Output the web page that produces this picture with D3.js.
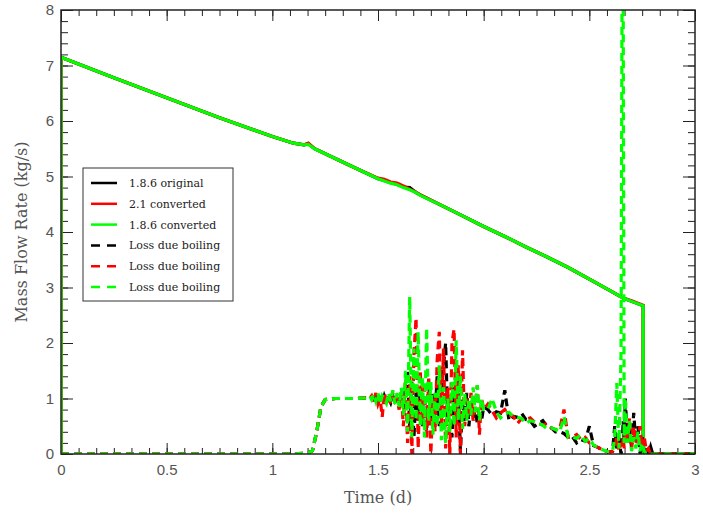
<!DOCTYPE html>
<html>
<head>
<meta charset="utf-8">
<script src="https://cdn.jsdelivr.net/npm/d3@7"></script>
<style>
  body { margin: 0; background: #fff; }
</style>
</head>
<body>
<div id="graphContainer"></div>
<script>
// main mass flow line (time in days, kg/s)
const mainTime = [0, 0, 0.25, 0.5, 0.75, 1.0, 1.1, 1.15, 1.17, 1.2, 1.3, 1.4, 1.5, 1.53, 1.56, 1.59, 1.62, 1.65, 1.68, 1.7, 1.8, 1.9, 2.0, 2.1, 2.2, 2.3, 2.4, 2.5, 2.6, 2.66, 2.7, 2.755, 2.755, 3.0]
const mainOriginal = [0, 7.15, 6.78, 6.42, 6.06, 5.72, 5.6, 5.57, 5.59, 5.5, 5.32, 5.14, 4.96, 4.93, 4.89, 4.86, 4.81, 4.8, 4.71, 4.67, 4.48, 4.29, 4.1, 3.92, 3.73, 3.55, 3.36, 3.15, 2.94, 2.81, 2.75, 2.67, 0, 0]
const main21 = [0, 7.15, 6.78, 6.42, 6.06, 5.72, 5.6, 5.57, 5.6, 5.5, 5.32, 5.14, 4.97, 4.95, 4.9, 4.88, 4.83, 4.77, 4.72, 4.67, 4.48, 4.29, 4.1, 3.92, 3.73, 3.55, 3.36, 3.15, 2.94, 2.81, 2.76, 2.68, 0, 0]
const main186 = [0, 7.15, 6.78, 6.42, 6.06, 5.72, 5.6, 5.57, 5.58, 5.5, 5.32, 5.14, 4.96, 4.92, 4.88, 4.85, 4.8, 4.76, 4.71, 4.66, 4.48, 4.29, 4.1, 3.92, 3.73, 3.55, 3.36, 3.15, 2.94, 2.81, 2.75, 2.67, 0, 0]

// loss due boiling (dashed)
const boilTime = [0, 1.1, 1.17, 1.19, 1.21, 1.23, 1.25, 1.3, 1.35, 1.4, 1.44,
  1.46, 1.47, 1.48, 1.49, 1.5, 1.51, 1.52, 1.53, 1.54, 1.55, 1.56, 1.57, 1.58, 1.59, 1.6,
  1.61, 1.62, 1.63, 1.64, 1.65, 1.66, 1.67, 1.68, 1.69, 1.7, 1.71, 1.72, 1.73, 1.74, 1.75,
  1.76, 1.77, 1.78, 1.79, 1.8, 1.81, 1.82, 1.83, 1.84, 1.85, 1.86, 1.87, 1.88, 1.89, 1.9,
  1.91, 1.92, 1.93, 1.94, 1.95, 1.96, 1.97, 1.98, 1.99, 2.0,
  2.02, 2.04, 2.06, 2.08, 2.1, 2.12, 2.14, 2.16, 2.18, 2.2, 2.22, 2.24, 2.26, 2.28, 2.3,
  2.32, 2.34, 2.36, 2.38, 2.4, 2.42, 2.44, 2.46, 2.48, 2.5, 2.52, 2.54, 2.56, 2.58, 2.6,
  2.61, 2.62, 2.63, 2.64, 2.65, 2.655, 2.66, 2.665, 2.67, 2.68, 2.69, 2.7, 2.71, 2.72, 2.73,
  2.74, 2.75, 2.76, 2.77, 2.78, 2.79, 2.8, 2.85, 3.0]
const boilOriginal = [0, 0, 0.02, 0.06, 0.4, 0.85, 0.98, 1.0, 1.0, 1.0, 1.01,
  1.0, 1.02, 0.98, 1.05, 0.95, 1.0, 0.9, 1.05, 0.95, 1.0, 0.92, 1.05, 0.9, 1.0, 0.9,
  1.1, 0.8, 1.2, 1.5, 0.5, 1.3, 0.3, 1.1, 0.6, 1.2, 0.5, 1.0, 0.4, 1.3, 0.6,
  1.1, 0.7, 1.4, 0.5, 1.2, 1.6, 2.0, 0.6, 1.0, 0.3, 1.2, 0.7, 1.1, 0.05, 0.9,
  0.6, 1.1, 0.5, 0.9, 0.65, 0.8, 0.55, 0.7, 0.6, 0.85,
  0.8, 0.7, 0.76, 0.74, 1.15, 0.6, 0.68, 0.66, 0.73, 0.62, 0.6, 0.5, 0.55, 0.6, 0.5,
  0.47, 0.4, 0.4, 0.37, 0.3, 0.31, 0.2, 0.26, 0.23, 0.5, 0.15, 0.12, 0.08, 0.05, 0.04,
  0.05, 0.5, 0.1, 0.3, 0.0, 0.1, 0.6, 0.2, 1.0, 0.3, 0.5, 0.1, 0.74, 0.2, 0.5,
  0.0, 0.3, 0.05, 0.13, 0.0, 0.13, 0, 0, 0]
const boil21 = [0, 0, 0.02, 0.06, 0.4, 0.85, 0.98, 1.0, 1.0, 1.0, 1.01,
  1.0, 1.05, 0.95, 1.1, 0.9, 1.0, 0.67, 1.1, 0.95, 1.05, 0.9, 1.1, 0.95, 1.0, 0.8,
  1.1, 0.5, 1.3, 0.2, 1.4, 0.0, 1.8, 2.45, 0.1, 1.5, 0.6, 1.2, 0.3, 1.4, 0.0,
  1.0, 0.4, 1.7, 2.2, 0.5, 1.9, 0.1, 1.2, 0.0, 2.0, 2.25, 0.3, 1.6, 0.0, 1.87,
  0.5, 1.0, 0.7, 1.1, 0.6, 0.9, 1.24, 0.35, 1.0, 0.8,
  0.9, 0.78, 0.65, 0.74, 0.8, 0.7, 0.68, 0.55, 0.64, 0.62, 0.65, 0.58, 0.55, 0.52, 0.55,
  0.47, 0.44, 0.45, 0.8, 0.3, 0.31, 0.35, 0.26, 0.3, 0.2, 0.16, 0.12, 0.08, 0.05, 0.04,
  0.05, 0.1, 0.3, 0.05, 0.2, 0.1, 0.3, 0.1, 0.4, 0.2, 0.65, 0.1, 0.5, 0.2, 0.3,
  0.5, 0.1, 0.3, 0.05, 0.1, 0.0, 0, 0, 0]
const boil186 = [0, 0, 0.02, 0.06, 0.4, 0.85, 0.98, 1.0, 1.0, 1.0, 1.01,
  1.05, 0.98, 1.08, 0.95, 1.1, 0.9, 1.05, 1.0, 0.92, 1.1, 0.95, 1.15, 0.9, 1.1, 0.85,
  1.2, 0.7, 1.5, 0.4, 2.83, 0.3, 1.9, 0.6, 2.2, 0.5, 1.4, 0.3, 2.27, 0.6, 1.3,
  0.35, 1.1, 0.5, 1.6, 0.25, 1.2, 0.2, 1.0, 0.4, 1.3, 0.5, 2.05, 0.6, 1.4, 0.45,
  1.1, 0.6, 1.0, 0.7, 1.2, 0.75, 1.24, 0.6, 1.0, 0.8,
  0.8, 1.0, 0.76, 0.65, 0.72, 0.75, 0.68, 0.66, 0.64, 0.55, 0.6, 0.58, 0.55, 0.52, 0.45,
  0.47, 0.44, 0.4, 0.67, 0.3, 0.31, 0.28, 0.35, 0.23, 0.28, 0.16, 0.12, 0.08, 0.05, 0.04,
  0.05, 0.3, 1.28, 0.1, 1.8, 8.6, 8.6, 0.2, 1.0, 0.2, 0.6, 0.05, 0.3, 0.1, 0.4,
  0.05, 0.2, 0.05, 0.0, 0.0, 0.0, 0, 0, 0]

const legendLabels = ['1.8.6 original', '2.1 converted', '1.8.6 converted', 'Loss due boiling', 'Loss due boiling', 'Loss due boiling']
const xTickLabels = [0, 0.5, 1, 1.5, 2, 2.5, 3]
const yTickLabels = [0, 1, 2, 3, 4, 5, 6, 7, 8]

let svgWidth = 703,
  svgHeight = 513
let margin = { top: 10, right: 8, bottom: 59, left: 61 }
let width = svgWidth - margin.left - margin.right
let height = svgHeight - margin.top - margin.bottom

let svg = d3
  .select('#graphContainer')
  .append('svg')
  .attr('width', svgWidth)
  .attr('height', svgHeight)
  .style('display', 'block')

let g = svg.append('g').attr('transform', 'translate(' + margin.left + ',' + margin.top + ')')

let x = d3.scaleLinear().domain([0, 3]).range([0, width])
let y = d3.scaleLinear().domain([0, 8]).range([height, 0])

svg
  .append('defs')
  .append('clipPath')
  .attr('id', 'plotClip')
  .append('rect')
  .attr('width', width)
  .attr('height', height)

// ticks (inward, mirrored on all sides)
let xMinor = d3.range(0, 37).map((i) => i / 12)
let yMinor = d3.range(0, 41).map((i) => i / 5)

function tickAxis(axis, vals, size, transform) {
  let a = g
    .append('g')
    .attr('class', 'ticks')
    .attr('transform', transform)
    .call(axis.tickValues(vals).tickSize(size).tickFormat(''))
  a.select('.domain').remove()
  a.selectAll('line').attr('stroke', '#222')
}
tickAxis(d3.axisBottom(x), xMinor, -6, 'translate(0,' + height + ')')
tickAxis(d3.axisBottom(x), xTickLabels, -11, 'translate(0,' + height + ')')
tickAxis(d3.axisTop(x), xMinor, -6, 'translate(0,0)')
tickAxis(d3.axisTop(x), xTickLabels, -11, 'translate(0,0)')
tickAxis(d3.axisLeft(y), yMinor, -7, 'translate(0,0)')
tickAxis(d3.axisLeft(y), yTickLabels, -12, 'translate(0,0)')
tickAxis(d3.axisRight(y), yMinor, -7, 'translate(' + width + ',0)')
tickAxis(d3.axisRight(y), yTickLabels, -12, 'translate(' + width + ',0)')

// tick labels
let xAxis = g
  .append('g')
  .attr('class', 'x-axis')
  .attr('transform', 'translate(0,' + height + ')')
  .call(d3.axisBottom(x).tickValues(xTickLabels).tickSize(0).tickPadding(10).tickFormat(d3.format('')))
xAxis.select('.domain').remove()
xAxis.selectAll('text').attr('fill', '#555').style('font', '15px "Liberation Sans", Arial, sans-serif')

let yAxis = g
  .append('g')
  .attr('class', 'y-axis')
  .call(d3.axisLeft(y).tickValues(yTickLabels).tickSize(0).tickPadding(7).tickFormat(d3.format('')))
yAxis.select('.domain').remove()
yAxis.selectAll('text').attr('fill', '#555').style('font', '15px "Liberation Sans", Arial, sans-serif')

// axis titles
svg
  .append('text')
  .attr('x', margin.left + width / 2)
  .attr('y', 503)
  .attr('text-anchor', 'middle')
  .attr('fill', '#555')
  .style('font', '16px "DejaVu Serif", serif')
  .text('Time (d)')

svg
  .append('text')
  .attr('transform', 'translate(27,' + (margin.top + height / 2) + ') rotate(-90)')
  .attr('text-anchor', 'middle')
  .attr('fill', '#555')
  .style('font', '16px "DejaVu Serif", serif')
  .text('Mass Flow Rate (kg/s)')

// lines
let line = d3
  .line()
  .x((d) => x(d.t))
  .y((d) => y(d.v))

function toPoints(ts, vs) {
  let temp = []
  for (let i = 0; i < ts.length; i++) {
    temp.push({ t: ts[i], v: vs[i] })
  }
  return temp
}

let series = [
  { data: toPoints(mainTime, mainOriginal), color: '#000', dash: null },
  { data: toPoints(mainTime, main21), color: '#ff0000', dash: null },
  { data: toPoints(mainTime, main186), color: '#00ff00', dash: null },
  { data: toPoints(boilTime, boilOriginal), color: '#000', dash: '8,5' },
  { data: toPoints(boilTime, boil21), color: '#ff0000', dash: '8,5' },
  { data: toPoints(boilTime, boil186), color: '#00ff00', dash: '8,5' },
]

let plot = g.append('g').attr('clip-path', 'url(#plotClip)')
series.forEach((s) => {
  plot
    .append('path')
    .datum(s.data)
    .attr('d', line)
    .attr('fill', 'none')
    .attr('stroke', s.color)
    .attr('stroke-width', 3.2)
    .attr('stroke-dasharray', s.dash)
})

// frame
g.append('rect')
  .attr('width', width)
  .attr('height', height)
  .attr('fill', 'none')
  .attr('stroke', '#222')
  .attr('stroke-width', 1.5)

// legend
let legend = svg.append('g').attr('transform', 'translate(83,168)')
legend
  .append('rect')
  .attr('width', 150)
  .attr('height', 133)
  .attr('fill', '#fff')
  .attr('stroke', '#333')
  .attr('stroke-width', 1)

legendLabels.forEach((lab, i) => {
  let ly = 15 + i * 20.8
  legend
    .append('line')
    .attr('x1', 8)
    .attr('x2', 34)
    .attr('y1', ly)
    .attr('y2', ly)
    .attr('stroke', series[i].color)
    .attr('stroke-width', 2.5)
    .attr('stroke-dasharray', series[i].dash ? '9,7' : null)
  legend
    .append('text')
    .attr('x', 46)
    .attr('y', ly + 4)
    .attr('fill', '#222')
    .style('font', '11px "DejaVu Serif", serif')
    .text(lab)
})
</script>
</body>
</html>
